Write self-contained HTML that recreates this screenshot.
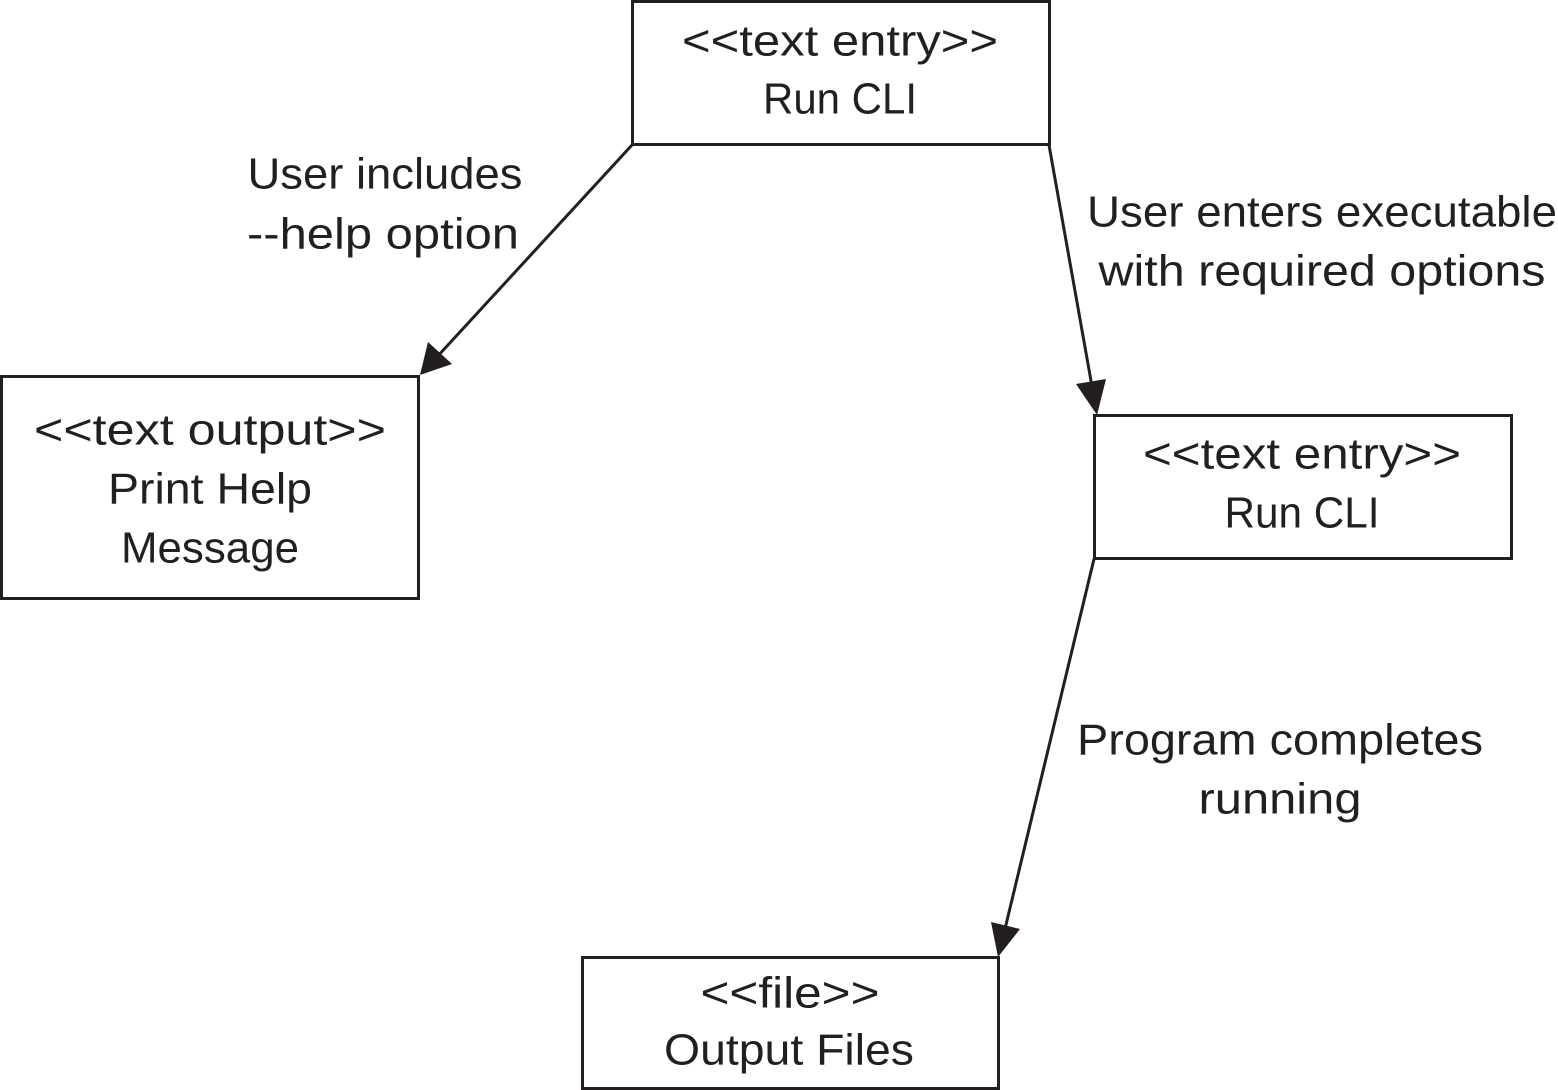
<!DOCTYPE html>
<html><head><meta charset="utf-8"><style>
html,body{margin:0;padding:0;background:#fff;}
svg{display:block;}
text{font-family:"Liberation Sans",sans-serif;font-size:44px;fill:#231f20;text-anchor:middle;dominant-baseline:middle;}
</style></head><body>
<svg width="1558" height="1090" viewBox="0 0 1558 1090">
<g fill="none" stroke="#231f20" stroke-width="3">
<rect x="632.5" y="1.5" width="417" height="143"/>
<rect x="1.5" y="376.5" width="417" height="222"/>
<rect x="1094.5" y="415.5" width="417" height="143"/>
<rect x="582.5" y="957.5" width="416" height="131"/>
<line x1="632" y1="145" x2="436" y2="358"/>
<line x1="1049" y1="145" x2="1093" y2="392"/>
<line x1="1094" y1="559" x2="1004" y2="933"/>
</g>
<g fill="#231f20">
<polygon points="420,375 428,342 452,364"/>
<polygon points="1097,415 1076,384 1106,379"/>
<polygon points="998,957 991,922 1020,929"/>
</g>
<g lengthAdjust="spacingAndGlyphs">
<text x="840" y="44" textLength="316" lengthAdjust="spacingAndGlyphs">&lt;&lt;text entry&gt;&gt;</text>
<text x="840" y="102" textLength="154" lengthAdjust="spacingAndGlyphs">Run CLI</text>
<text x="210" y="433" textLength="352" lengthAdjust="spacingAndGlyphs">&lt;&lt;text output&gt;&gt;</text>
<text x="210" y="492" textLength="204" lengthAdjust="spacingAndGlyphs">Print Help</text>
<text x="210" y="551" textLength="178" lengthAdjust="spacingAndGlyphs">Message</text>
<text x="1302" y="457" textLength="318" lengthAdjust="spacingAndGlyphs">&lt;&lt;text entry&gt;&gt;</text>
<text x="1302" y="516" textLength="155" lengthAdjust="spacingAndGlyphs">Run CLI</text>
<text x="790" y="996" textLength="179" lengthAdjust="spacingAndGlyphs">&lt;&lt;file&gt;&gt;</text>
<text x="789" y="1053" textLength="250" lengthAdjust="spacingAndGlyphs">Output Files</text>
<text x="385" y="177" textLength="275" lengthAdjust="spacingAndGlyphs">User includes</text>
<text x="383" y="237" textLength="272" lengthAdjust="spacingAndGlyphs">--help option</text>
<text x="1322" y="215" textLength="470" lengthAdjust="spacingAndGlyphs">User enters executable</text>
<text x="1322" y="274" textLength="447" lengthAdjust="spacingAndGlyphs">with required options</text>
<text x="1280" y="743" textLength="406" lengthAdjust="spacingAndGlyphs">Program completes</text>
<text x="1280" y="802" textLength="163" lengthAdjust="spacingAndGlyphs">running</text>
</g>
</svg>
</body></html>
